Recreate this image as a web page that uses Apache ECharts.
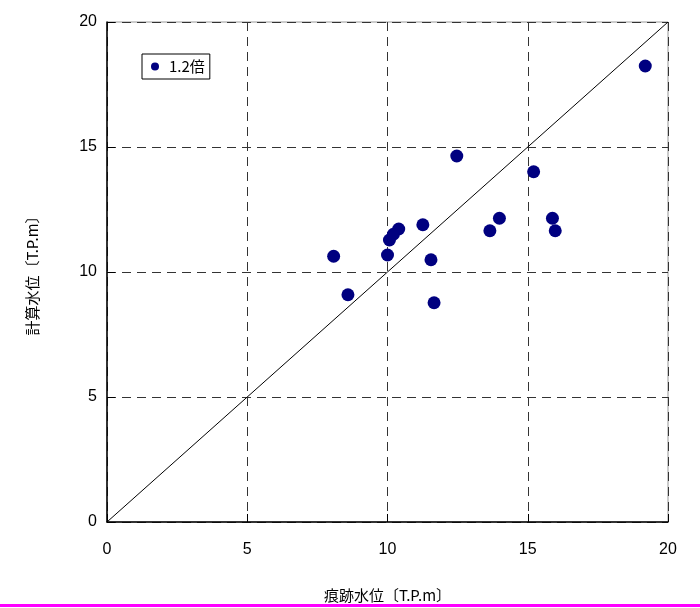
<!DOCTYPE html>
<html>
<head>
<meta charset="utf-8">
<script src="https://cdn.jsdelivr.net/npm/echarts@6/dist/echarts.min.js"></script>
<style>
  html, body { margin: 0; padding: 0; background: #fff; }
  #chart { width: 700px; height: 608px; }
</style>
</head>
<body>
<div id="chart"></div>
<script>
// Observed (trace) water level vs. computed water level, T.P. metres
const seriesName = '1.2倍';
const observed = [8.08, 8.59, 10.0, 10.07, 10.21, 10.4, 11.26, 11.55, 11.66, 12.47, 13.65, 13.99, 15.21, 15.88, 15.98, 19.19];
const computed = [10.63, 9.09, 10.68, 11.28, 11.51, 11.72, 11.89, 10.49, 8.77, 14.64, 11.65, 12.15, 14.01, 12.15, 11.65, 18.24];
const xTitle = '痕跡水位〔T.P.m〕';
const yTitle = '計算水位〔T.P.m〕';
const axisMin = 0, axisMax = 20, axisStep = 5;
const equalityLine = [[0, 0], [20, 20]];

const points = observed.map((v, i) => [v, computed[i]]);
const font = 'Liberation Sans, Arial, "Noto Sans CJK JP", sans-serif';
const jpFont = '"Noto Sans CJK JP", "Liberation Sans", sans-serif';

const valueAxis = (name, gap, isY) => ({
  type: 'value',
  min: axisMin, max: axisMax, interval: axisStep,
  name: name,
  nameLocation: 'middle',
  nameGap: gap,
  nameTextStyle: { fontFamily: jpFont, fontSize: 15, color: '#000' },
  axisLine: { show: true, onZero: false, lineStyle: { color: '#000', width: 1.5 } },
  axisTick: { show: true, inside: true, length: 8, lineStyle: { color: '#000' } },
  axisLabel: { fontFamily: font, fontSize: 16, color: '#000', margin: isY ? 10 : 20 },
  splitLine: { show: true, lineStyle: { color: '#333', width: 1, type: [9, 6] } }
});

const chart = echarts.init(document.getElementById('chart'), null, { renderer: 'canvas' });
chart.setOption({
  animation: false,
  backgroundColor: '#fff',
  grid: { left: 107, top: 22, right: 32, bottom: 86, show: true, borderColor: '#999', borderWidth: 1, backgroundColor: 'transparent' },
  xAxis: valueAxis(xTitle, 66, false),
  yAxis: valueAxis(yTitle, 67, true),
  legend: {
    data: [seriesName],
    left: 142, top: 54,
    orient: 'vertical',
    backgroundColor: '#fff',
    borderColor: '#000', borderWidth: 1,
    padding: [5, 5, 5, 9],
    icon: 'circle',
    itemWidth: 8, itemHeight: 8, itemGap: 4,
    textStyle: { fontFamily: jpFont, fontSize: 15, color: '#000', padding: [0, 0, 0, 5] }
  },
  series: [
    {
      type: 'line',
      data: equalityLine,
      showSymbol: false,
      symbol: 'none',
      silent: true,
      lineStyle: { color: '#000', width: 1 },
      z: 2
    },
    {
      name: seriesName,
      type: 'scatter',
      data: points,
      symbol: 'circle',
      symbolSize: 13,
      itemStyle: { color: '#000080', opacity: 1 },
      z: 3
    }
  ],
  graphic: [
    { type: 'rect', left: 0, top: 604, shape: { width: 700, height: 3 }, style: { fill: '#ff00ff' } }
  ]
});
</script>
</body>
</html>
